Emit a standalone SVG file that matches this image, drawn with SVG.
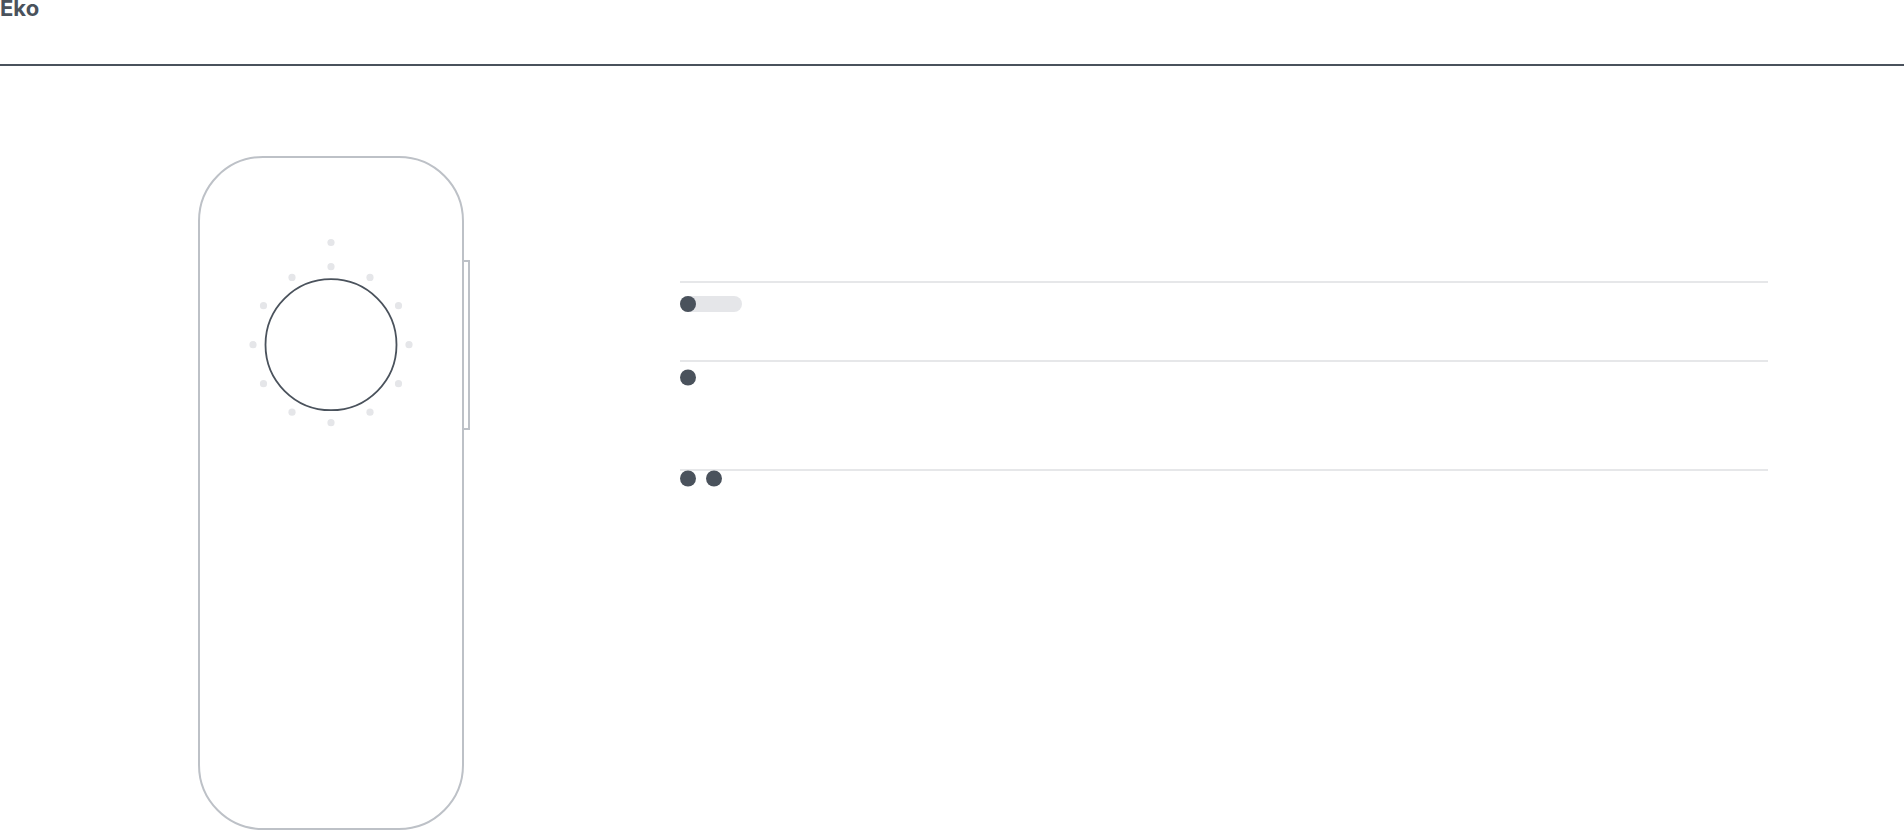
<svg xmlns="http://www.w3.org/2000/svg" width="1904" height="832" viewBox="0 0 1904 832">
<style>
.title{font-family:Inter,"Liberation Sans",sans-serif;font-weight:700;font-size:22px;fill:#4a525c}
.dev{fill:#fff;stroke:#bdc1c7;stroke-width:2}
.led{fill:#e5e6e9}
.knob{fill:#4a525c}
.sep{stroke:#e6e7e9;stroke-width:2}
</style>
<rect width="1904" height="832" fill="#fff"/>
<text class="title" x="0" y="16">Eko</text>
<line x1="0" y1="65" x2="1904" y2="65" stroke="#4a525c" stroke-width="2"/>
<g id="device">
<rect class="dev" x="463" y="261" width="6" height="168"/>
<rect class="dev" x="199" y="157" width="264" height="672" rx="64" ry="64"/>
<g id="leds">
<circle class="led" cx="331" cy="242.5" r="3.6"/>
<circle class="led" cx="331" cy="266.7" r="3.6"/>
<circle class="led" cx="370" cy="277.4" r="3.6"/>
<circle class="led" cx="398.5" cy="305.7" r="3.6"/>
<circle class="led" cx="409" cy="344.7" r="3.6"/>
<circle class="led" cx="398.5" cy="383.7" r="3.6"/>
<circle class="led" cx="370" cy="412.2" r="3.6"/>
<circle class="led" cx="331" cy="422.7" r="3.6"/>
<circle class="led" cx="292" cy="412.2" r="3.6"/>
<circle class="led" cx="263.5" cy="383.7" r="3.6"/>
<circle class="led" cx="253" cy="344.7" r="3.6"/>
<circle class="led" cx="263.5" cy="305.7" r="3.6"/>
<circle class="led" cx="292" cy="277.4" r="3.6"/>
</g>
<circle id="dial" cx="331" cy="344.7" r="65.5" fill="#fff" stroke="#4a525c" stroke-width="1.8"/>
</g>
<g id="connectors">
<line class="sep" x1="680" y1="282" x2="1768" y2="282"/>
<line class="sep" x1="680" y1="361" x2="1768" y2="361"/>
<line class="sep" x1="680" y1="470" x2="1768" y2="470"/>
</g>
<g id="row1">
<rect x="680" y="296" width="62" height="16" rx="8" fill="#e5e6e9"/>
<circle class="knob" cx="688" cy="304" r="8"/>
</g>
<g id="row2">
<circle class="knob" cx="688" cy="377.5" r="8"/>
</g>
<g id="row3">
<circle class="knob" cx="688" cy="478.5" r="8"/>
<circle class="knob" cx="714" cy="478.5" r="8"/>
</g>
</svg>
